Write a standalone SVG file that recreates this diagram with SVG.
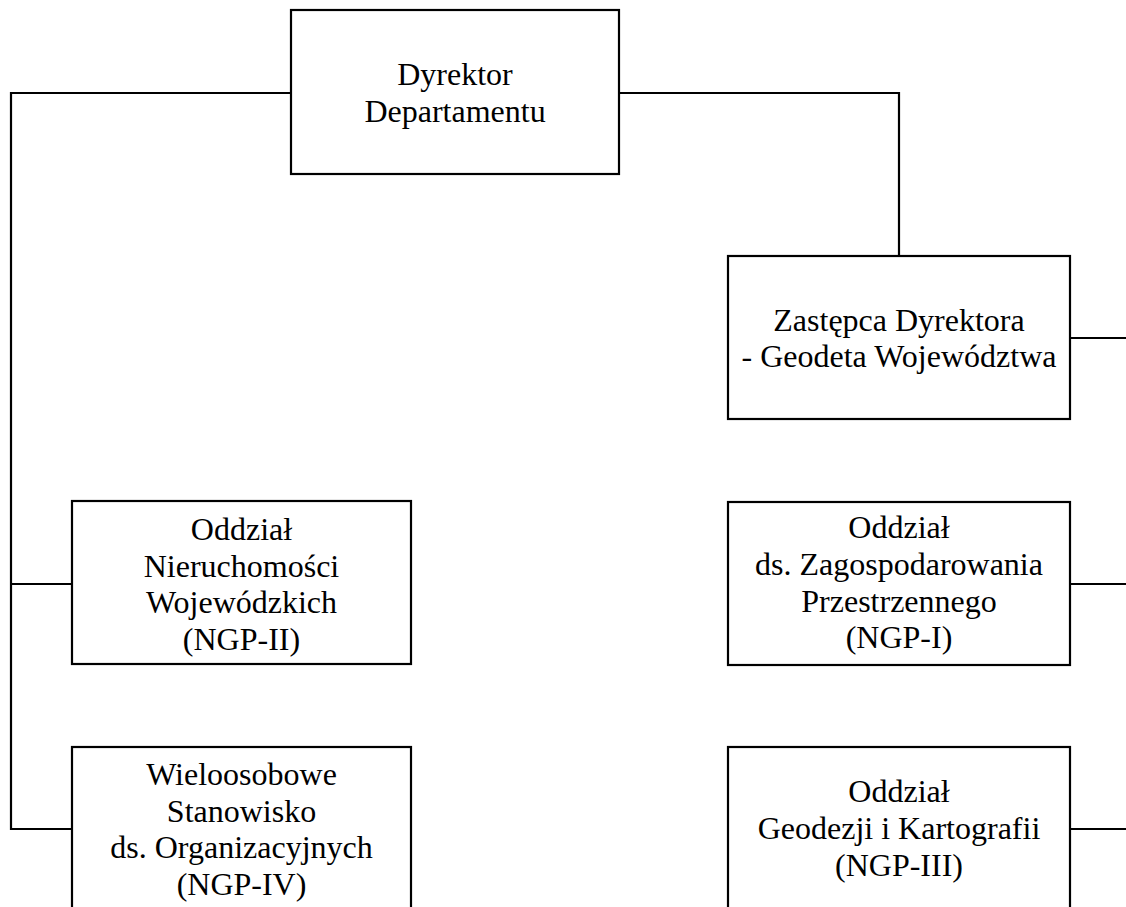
<svg xmlns="http://www.w3.org/2000/svg" width="1126" height="907" viewBox="0 0 1126 907">
<style>
.box{fill:#fff;stroke:#000;stroke-width:2.2}
.conn{fill:none;stroke:#000;stroke-width:2.2}
text{font-family:"Liberation Serif","Times New Roman",serif;font-size:32px;fill:#000;text-anchor:middle}
</style>
<rect width="1126" height="907" fill="#fff"/>
<g id="connectors">
<path class="conn" d="M291 93 H11 V829 H72"/>
<path class="conn" d="M11 584 H72"/>
<path class="conn" d="M619 93 H899 V256"/>
<path class="conn" d="M1070 338 H1126"/>
<path class="conn" d="M1070 584 H1126"/>
<path class="conn" d="M1070 829 H1126"/>
</g>
<g id="dyrektor">
<rect class="box" x="291" y="10" width="328" height="164"/>
<text x="455" y="85">Dyrektor</text>
<text x="455" y="121.5">Departamentu</text>
</g>
<g id="zastepca">
<rect class="box" x="728" y="256" width="342" height="163"/>
<text x="899" y="330.5">Zastępca Dyrektora</text>
<text x="899" y="367">- Geodeta Województwa</text>
</g>
<g id="ngp1">
<rect class="box" x="728" y="502" width="342" height="163"/>
<text x="899" y="538">Oddział</text>
<text x="899" y="575">ds. Zagospodarowania</text>
<text x="899" y="611.5">Przestrzennego</text>
<text x="899" y="648">(NGP-I)</text>
</g>
<g id="ngp3">
<rect class="box" x="728" y="747" width="342" height="190"/>
<text x="899" y="802">Oddział</text>
<text x="899" y="839">Geodezji i Kartografii</text>
<text x="899" y="875.5">(NGP-III)</text>
</g>
<g id="ngp2">
<rect class="box" x="72" y="501" width="339" height="163"/>
<text x="241.5" y="540">Oddział</text>
<text x="241.5" y="576.5">Nieruchomości</text>
<text x="241.5" y="613">Wojewódzkich</text>
<text x="241.5" y="649.5">(NGP-II)</text>
</g>
<g id="ngp4">
<rect class="box" x="72" y="747" width="339" height="190"/>
<text x="241.5" y="785">Wieloosobowe</text>
<text x="241.5" y="821.5">Stanowisko</text>
<text x="241.5" y="858">ds. Organizacyjnych</text>
<text x="241.5" y="894.5">(NGP-IV)</text>
</g>
</svg>
